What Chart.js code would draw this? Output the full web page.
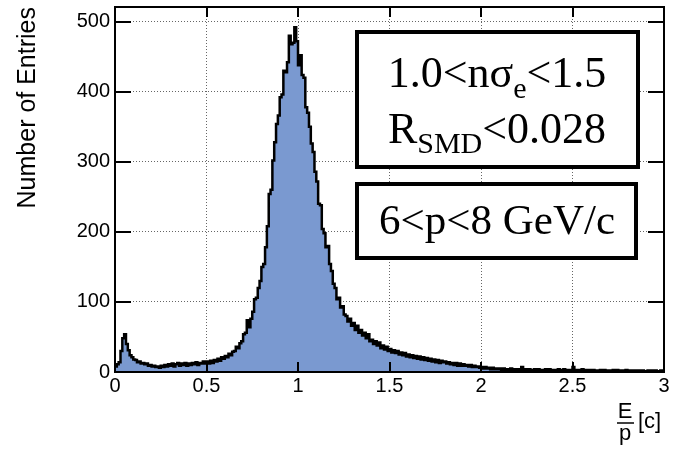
<!DOCTYPE html>
<html>
<head>
<meta charset="utf-8">
<script src="https://cdn.jsdelivr.net/npm/chart.js@4.4.1/dist/chart.umd.min.js"></script>
<style>
  html, body { margin: 0; padding: 0; background: #fff; }
  #wrap { width: 673px; height: 451px; position: relative; }
</style>
</head>
<body>
<div id="wrap"><canvas id="c" width="673" height="451"></canvas></div>
<script>
// ---- data (histogram of E/p, bin width 0.01 from 0 to 3) ----
const binWidth = 0.01;
const xMin = 0;
const xMax = 3;
const yMin = 0;
const yMax = 521;
const counts = [
  8, 11, 14, 30, 48, 54, 40, 31, 24, 21,
  18, 17, 14, 15, 12, 13, 11, 12, 9, 10,
  8, 9, 7, 8, 6, 9, 7, 10, 8, 11,
  9, 12, 8, 11, 13, 9, 12, 10, 13, 9,
  12, 10, 13, 11, 14, 10, 13, 12, 15, 12,
  15, 12, 16, 13, 17, 15, 19, 16, 21, 19,
  23, 21, 26, 24, 29, 30, 36, 34, 41, 44,
  54, 56, 74, 64, 76, 86, 104, 106, 120, 130,
  150, 154, 178, 208, 254, 260, 302, 328, 354, 366,
  392, 396, 430, 428, 442, 480, 468, 470, 492, 472,
  438, 452, 424, 420, 378, 370, 350, 326, 314, 286,
  272, 240, 238, 204, 198, 178, 180, 154, 144, 126,
  120, 104, 106, 92, 94, 82, 80, 72, 76, 66,
  70, 60, 66, 56, 60, 52, 56, 48, 54, 44,
  46, 40, 44, 38, 42, 34, 38, 32, 36, 30,
  33, 28, 31, 27, 30, 25, 28, 24, 27, 22,
  25, 21, 24, 20, 23, 19, 22, 18, 21, 17,
  20, 16, 19, 15, 18, 14, 17, 13, 16, 14,
  15, 12, 14, 11, 13, 10, 13, 9, 12, 9,
  11, 9, 10, 8, 10, 7, 9, 7, 8, 6,
  7, 5, 7, 5, 6, 4, 6, 4, 5, 4,
  5, 3, 5, 3, 4, 3, 5, 2, 4, 3,
  4, 2, 7, 3, 4, 2, 4, 3, 2, 4,
  3, 4, 2, 3, 2, 4, 2, 4, 3, 2,
  3, 2, 4, 2, 3, 4, 2, 3, 2, 3,
  7, 3, 2, 3, 2, 4, 2, 3, 2, 3,
  2, 3, 1, 2, 2, 3, 1, 3, 1, 2,
  2, 1, 3, 1, 3, 1, 2, 2, 1, 3,
  1, 2, 1, 2, 1, 2, 2, 1, 2, 1,
  1, 2, 1, 2, 1, 2, 1, 1, 2, 1
];
const xTickValues = [0, 0.5, 1, 1.5, 2, 2.5, 3];
const yTickValues = [0, 100, 200, 300, 400, 500];
const yTitle = 'Number of Entries';
const xTitleNum = 'E';
const xTitleDen = 'p';
const xTitleUnit = '[c]';
const box1Line1 = ['1.0<n\u03C3', 'e', '<1.5'];
const box1Line2 = ['R', 'SMD', '<0.028'];
const box2Line = '6<p<8 GeV/c';

// ---- build histogram points (left bin edges + closing edge) ----
const points = counts.map((c, i) => ({ x: xMin + i * binWidth, y: c }));
points.push({ x: xMax, y: counts[counts.length - 1] });

const SANS = '"Liberation Sans", Arial, Helvetica, sans-serif';
const SERIF = '"Liberation Serif", "Times New Roman", serif';

function drawRich(ctx, parts, cx, baseline, size, subSize, subDrop) {
  ctx.font = size + 'px ' + SERIF;
  const w0 = ctx.measureText(parts[0]).width;
  const w2 = ctx.measureText(parts[2]).width;
  ctx.font = subSize + 'px ' + SERIF;
  const w1 = ctx.measureText(parts[1]).width;
  let x = cx - (w0 + w1 + w2) / 2;
  ctx.textAlign = 'left';
  ctx.textBaseline = 'alphabetic';
  ctx.font = size + 'px ' + SERIF;
  ctx.fillText(parts[0], x, baseline);
  x += w0;
  ctx.font = subSize + 'px ' + SERIF;
  ctx.fillText(parts[1], x, baseline + subDrop);
  x += w1;
  ctx.font = size + 'px ' + SERIF;
  ctx.fillText(parts[2], x, baseline);
}

const decorPlugin = {
  id: 'decor',
  afterDatasetsDraw(chart) {
    const ctx = chart.ctx;
    const area = chart.chartArea;
    const xs = chart.scales.x;
    const ys = chart.scales.y;
    ctx.save();
    ctx.strokeStyle = '#000';
    ctx.lineWidth = 2;
    ctx.beginPath();
    yTickValues.forEach(v => {
      const py = Math.round(ys.getPixelForValue(v));
      ctx.moveTo(area.left, py); ctx.lineTo(area.left + 16, py);
      ctx.moveTo(area.right, py); ctx.lineTo(area.right - 16, py);
    });
    xTickValues.forEach(v => {
      const px = Math.round(xs.getPixelForValue(v));
      ctx.moveTo(px, area.bottom); ctx.lineTo(px, area.bottom - 10);
      ctx.moveTo(px, area.top); ctx.lineTo(px, area.top + 10);
    });
    ctx.stroke();
    ctx.strokeRect(area.left, area.top, area.right - area.left, area.bottom - area.top);

    // text boxes
    ctx.lineWidth = 4;
    ctx.fillStyle = '#fff';
    ctx.fillRect(357, 32, 281, 135);
    ctx.strokeRect(357, 32, 281, 135);
    ctx.fillRect(357, 184, 279, 74);
    ctx.strokeRect(357, 184, 279, 74);
    ctx.fillStyle = '#000';
    drawRich(ctx, box1Line1, 497, 87, 44, 30, 11);
    drawRich(ctx, box1Line2, 497, 143, 44, 30, 10);
    ctx.font = '43px ' + SERIF;
    ctx.textAlign = 'center';
    ctx.textBaseline = 'alphabetic';
    ctx.fillText(box2Line, 497, 234);

    // x title as fraction E/p [c]
    ctx.font = '22px ' + SANS;
    ctx.textAlign = 'center';
    ctx.fillText(xTitleNum, 625, 418);
    ctx.fillText(xTitleDen, 625, 440);
    ctx.lineWidth = 1.5;
    ctx.beginPath();
    ctx.moveTo(617, 423); ctx.lineTo(634, 423);
    ctx.stroke();
    ctx.textAlign = 'left';
    ctx.fillText(xTitleUnit, 638, 428);
    ctx.restore();
  }
};

new Chart(document.getElementById('c'), {
  type: 'line',
  data: {
    datasets: [{
      data: points,
      stepped: 'before',
      borderColor: '#000',
      borderWidth: 2.5,
      backgroundColor: 'rgb(122,153,208)',
      fill: 'origin',
      pointRadius: 0,
      tension: 0
    }]
  },
  options: {
    responsive: false,
    animation: false,
    devicePixelRatio: 1,
    layout: { padding: { left: 0, right: 9, top: 7, bottom: 0 } },
    plugins: { legend: { display: false }, tooltip: { enabled: false } },
    scales: {
      x: {
        type: 'linear',
        min: xMin,
        max: xMax,
        afterBuildTicks: s => { s.ticks = xTickValues.map(v => ({ value: v })); },
        afterFit: s => { s.height = 79; s.paddingLeft = 0; s.paddingRight = 0; },
        ticks: {
          color: '#000',
          font: { family: SANS, size: 20 },
          padding: 2,
          maxRotation: 0,
          autoSkip: false,
          callback: v => String(v)
        },
        grid: { color: '#666', lineWidth: 1, drawTicks: false },
        border: { display: false, dash: [1, 2] }
      },
      y: {
        min: yMin,
        max: yMax,
        afterBuildTicks: s => { s.ticks = yTickValues.map(v => ({ value: v })); },
        afterFit: s => { s.width = 115; s.paddingTop = 0; s.paddingBottom = 0; },
        ticks: {
          color: '#000',
          font: { family: SANS, size: 20 },
          padding: 5,
          autoSkip: false,
          callback: v => String(v)
        },
        grid: { color: '#666', lineWidth: 1, drawTicks: false },
        border: { display: false, dash: [1, 2] },
        title: {
          display: true,
          text: yTitle,
          align: 'end',
          color: '#000',
          font: { family: SANS, size: 25 },
          padding: { top: 13, bottom: 0 }
        }
      }
    }
  },
  plugins: [decorPlugin]
});
</script>
</body>
</html>
